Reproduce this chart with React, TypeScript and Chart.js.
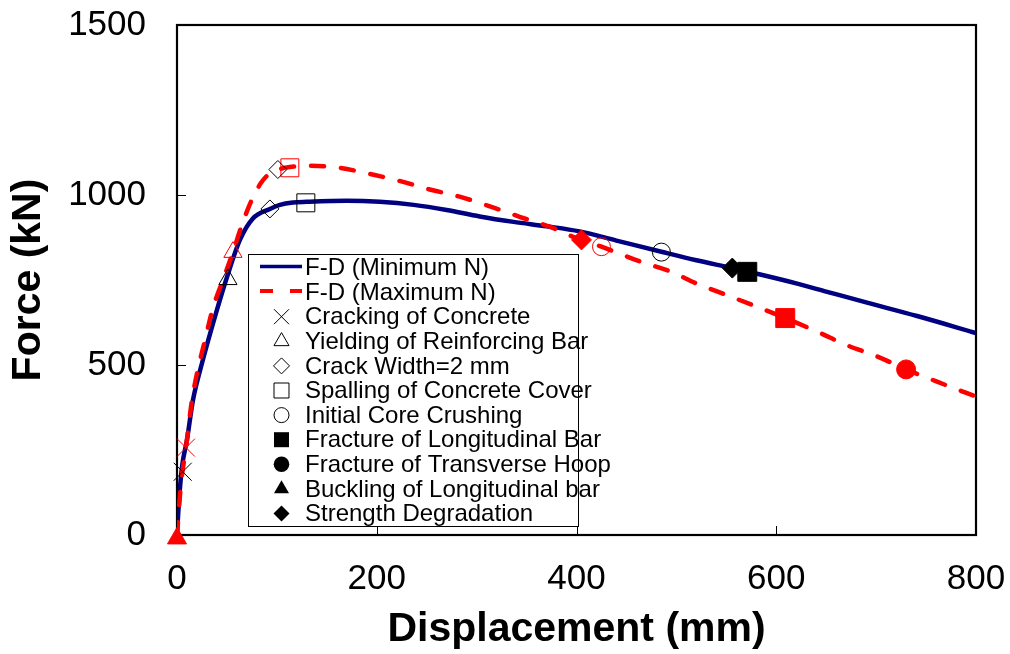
import React, { useEffect, useRef } from 'react';
import { Chart, registerables } from 'chart.js';

Chart.register(...registerables);

const FONT = '"Liberation Sans", Arial, Helvetica, sans-serif';

// ---------- data ----------
const seriesLabels = ['F-D (Minimum N)', 'F-D (Maximum N)'];

const minDisp = [0, 2, 5, 10, 16, 25, 40, 50, 63, 76, 93, 103, 116, 130, 170, 203, 237, 270, 303, 337, 370, 403, 440, 485, 520, 556, 584, 620, 650, 690, 741, 800];
const minForce = [0, 100, 200, 280, 397, 505, 662, 758, 868, 931, 959, 971, 978, 980, 983, 980, 971, 956, 937, 921, 908, 893, 866, 833, 808, 785, 766, 740, 716, 684, 644, 594];

const maxDisp = [0, 4, 9, 15, 20, 28, 36, 46, 56, 65, 74, 84, 93, 105, 118, 130, 160, 190, 222, 252, 283, 314, 343, 373, 400, 425, 464, 494, 520, 550, 580, 610, 644, 670, 701, 730, 761, 791, 800];
const maxForce = [0, 150, 257, 397, 475, 573, 668, 750, 832, 912, 980, 1035, 1064, 1078, 1084, 1086, 1081, 1064, 1042, 1017, 995, 966, 936, 907, 873, 848, 804, 775, 740, 706, 672, 637, 594, 559, 525, 487, 451, 417, 407];

const eventLabels = [
  'Cracking of Concrete',
  'Yielding of Reinforcing Bar',
  'Crack Width=2 mm',
  'Spalling of Concrete Cover',
  'Initial Core Crushing',
  'Fracture of Longitudinal Bar',
  'Fracture of Transverse Hoop',
  'Buckling of Longitudinal bar',
  'Strength Degradation',
];
const minEventDisp = [5.7, 51, 93, 129, 485, 571, null, null, 556];
const minEventForce = [186, 752, 959, 977, 832, 774, null, null, 785];
const maxEventDisp = [9, 56, 101, 113, 425, 609, 730, 0, 405];
const maxEventForce = [257, 832, 1075, 1080, 848, 638, 487, -10, 868];

const xMin = 0, xMax = 800, xStep = 200;
const yMin = 0, yMax = 1500, yStep = 500;

// ---------- styles ----------
const eventShape = ['crossRot', 'triangle', 'rectRot', 'rect', 'circle', 'rect', 'circle', 'triangle', 'rectRot'];
const eventFilled = [false, false, false, false, false, true, true, true, true];
const eventRadius = [12.7, 10.5, 9, 12.7, 9, 13.4, 9.5, 11, 10];
const legendRadius = [10.6, 8.7, 8, 10.6, 7.5, 10.6, 7.8, 8.7, 8];
const minEventColor = ['#000', '#000', '#000', '#000', '#000', '#000', '#000', '#000', '#000'];
const maxEventColor = ['#FF0000', '#FF0000', '#000', '#FF0000', '#FF0000', '#FF0000', '#FF0000', '#FF0000', '#FF0000'];
const BLUE = '#000080';
const RED = '#FF0000';

function drawShape(ctx: CanvasRenderingContext2D, shape: string, x: number, y: number, r: number, filled: boolean, color: string) {
  ctx.save();
  ctx.strokeStyle = color;
  ctx.fillStyle = color;
  ctx.lineWidth = 1;
  ctx.beginPath();
  const s = Math.SQRT1_2 * r;
  if (shape === 'crossRot') {
    ctx.moveTo(x - s, y - s); ctx.lineTo(x + s, y + s);
    ctx.moveTo(x - s, y + s); ctx.lineTo(x + s, y - s);
    ctx.stroke();
  } else {
    if (shape === 'triangle') {
      ctx.moveTo(x, y - r);
      ctx.lineTo(x + r * Math.sin((2 * Math.PI) / 3), y - r * Math.cos((2 * Math.PI) / 3));
      ctx.lineTo(x + r * Math.sin((4 * Math.PI) / 3), y - r * Math.cos((4 * Math.PI) / 3));
      ctx.closePath();
    } else if (shape === 'rectRot') {
      ctx.moveTo(x, y - r); ctx.lineTo(x + r, y); ctx.lineTo(x, y + r); ctx.lineTo(x - r, y); ctx.closePath();
    } else if (shape === 'rect') {
      ctx.rect(x - s, y - s, 2 * s, 2 * s);
    } else {
      ctx.arc(x, y, r, 0, Math.PI * 2);
    }
    if (filled) ctx.fill(); else ctx.stroke();
  }
  ctx.restore();
}

const framePlugin = {
  id: 'frameTicks',
  beforeDatasetsDraw(chart: any) {
    const { ctx, chartArea: a, scales } = chart;
    ctx.save();
    ctx.strokeStyle = '#000';
    ctx.lineWidth = 1;
    ctx.beginPath();
    for (const t of scales.x.ticks) {
      const px = Math.round(scales.x.getPixelForValue(t.value)) + 0.5;
      ctx.moveTo(px, a.bottom); ctx.lineTo(px, a.bottom - 9);
    }
    for (const t of scales.y.ticks) {
      const py = Math.round(scales.y.getPixelForValue(t.value)) + 0.5;
      ctx.moveTo(a.left, py); ctx.lineTo(a.left + 9, py);
    }
    ctx.stroke();
    ctx.lineWidth = 2.2;
    ctx.strokeRect(a.left, a.top, a.right - a.left, a.bottom - a.top);
    ctx.restore();
  },
};

const legendPlugin = {
  id: 'insideLegend',
  afterDraw(chart: any) {
    const { ctx, chartArea: a } = chart;
    const bx = a.left + 71, by = a.top + 229, bw = 330, bh = 272;
    ctx.save();
    ctx.fillStyle = '#fff';
    ctx.fillRect(bx, by, bw, bh);
    ctx.strokeStyle = '#000';
    ctx.lineWidth = 1;
    ctx.strokeRect(bx + 0.5, by + 0.5, bw, bh);
    const rowY0 = by + 13.5;
    const step = 24.6;
    const symX = bx + 33.5;
    const textX = bx + 57;
    ctx.font = `24px ${FONT}`;
    ctx.textBaseline = 'middle';
    ctx.textAlign = 'left';
    ctx.fillStyle = '#000';
    // series lines
    const lx0 = bx + 12, lx1 = bx + 54;
    ctx.lineCap = 'butt';
    ctx.strokeStyle = BLUE;
    ctx.lineWidth = 3.5;
    ctx.beginPath(); ctx.moveTo(lx0, rowY0 - 1); ctx.lineTo(lx1, rowY0 - 1); ctx.stroke();
    ctx.strokeStyle = RED;
    ctx.lineWidth = 4;
    ctx.setLineDash([13, 17]);
    ctx.beginPath(); ctx.moveTo(lx0, rowY0 + step - 1); ctx.lineTo(lx1, rowY0 + step - 1); ctx.stroke();
    ctx.setLineDash([]);
    ctx.fillText(seriesLabels[0], textX, rowY0 + 1);
    ctx.fillText(seriesLabels[1], textX, rowY0 + step + 1);
    eventLabels.forEach((lab, i) => {
      const y = rowY0 + (i + 2) * step;
      drawShape(ctx, eventShape[i], symX, y, legendRadius[i], eventFilled[i], '#000');
      ctx.fillStyle = '#000';
      ctx.fillText(lab, textX, y + 1);
    });
    ctx.restore();
  },
};

export default function App() {
  const ref = useRef<HTMLCanvasElement | null>(null);

  useEffect(() => {
    if (!ref.current) return;
    const markerSets: any[] = [];
    eventLabels.forEach((lab, i) => {
      const common = {
        showLine: false,
        pointStyle: eventShape[i],
        pointRadius: eventRadius[i],
        pointHoverRadius: eventRadius[i],
        pointBorderWidth: 1,
        clip: false,
        order: 0,
      };
      if (minEventDisp[i] !== null) {
        markerSets.push({
          ...common,
          label: lab + ' (Min N)',
          data: [{ x: minEventDisp[i], y: minEventForce[i] }],
          pointBorderColor: minEventColor[i],
          pointBackgroundColor: eventFilled[i] ? minEventColor[i] : 'rgba(0,0,0,0)',
        });
      }
      if (maxEventDisp[i] !== null) {
        markerSets.push({
          ...common,
          label: lab + ' (Max N)',
          data: [{ x: maxEventDisp[i], y: maxEventForce[i] }],
          pointBorderColor: maxEventColor[i],
          pointBackgroundColor: eventFilled[i] ? maxEventColor[i] : 'rgba(0,0,0,0)',
        });
      }
    });

    const chart = new Chart(ref.current, {
      type: 'scatter',
      data: {
        datasets: [
          ...markerSets,
          {
            label: seriesLabels[1],
            data: maxDisp.map((x, i) => ({ x, y: maxForce[i] })),
            showLine: true,
            borderColor: RED,
            borderWidth: 4.5,
            borderDash: [13, 17],
            borderCapStyle: 'round',
            pointRadius: 0,
            cubicInterpolationMode: 'monotone',
            order: 1,
          },
          {
            label: seriesLabels[0],
            data: minDisp.map((x, i) => ({ x, y: minForce[i] })),
            showLine: true,
            borderColor: BLUE,
            borderWidth: 4.5,
            pointRadius: 0,
            cubicInterpolationMode: 'monotone',
            order: 2,
          },
        ],
      },
      options: {
        responsive: false,
        animation: false,
        devicePixelRatio: 1,
        layout: { padding: { left: 0, top: 25, right: 34, bottom: 0 } },
        plugins: {
          legend: { display: false },
          tooltip: { enabled: false },
        },
        scales: {
          x: {
            type: 'linear',
            min: xMin,
            max: xMax,
            grid: { display: false, drawTicks: false, tickLength: 0 },
            border: { display: false },
            ticks: {
              stepSize: xStep,
              color: '#000',
              padding: 23,
              font: { family: FONT, size: 35 },
              maxRotation: 0,
              callback: (v: any) => String(v),
            },
            title: {
              display: true,
              text: 'Displacement (mm)',
              color: '#000',
              font: { family: FONT, size: 41, weight: 'bold' },
              padding: { top: 0, bottom: 0 },
            },
            afterFit: (s: any) => {
              s.height = 119;
              s.paddingLeft = 0; s.paddingRight = 0; s.paddingTop = 0; s.paddingBottom = 0;
            },
          },
          y: {
            type: 'linear',
            min: yMin,
            max: yMax,
            grid: { display: false, drawTicks: false, tickLength: 0 },
            border: { display: false },
            ticks: {
              stepSize: yStep,
              color: '#000',
              padding: 31,
              font: { family: FONT, size: 35 },
              callback: (v: any) => String(v),
            },
            title: {
              display: true,
              text: 'Force (kN)',
              color: '#000',
              font: { family: FONT, size: 41, weight: 'bold' },
              padding: { top: 4, bottom: 4 },
            },
            afterFit: (s: any) => {
              s.width = 177;
              s.paddingLeft = 0; s.paddingRight = 0; s.paddingTop = 0; s.paddingBottom = 0;
            },
          },
        },
      } as any,
      plugins: [framePlugin, legendPlugin],
    });
    return () => chart.destroy();
  }, []);

  return (
    <div style={{ position: 'absolute', left: 0, top: 0, width: 1010, height: 654, background: '#fff' }}>
      <canvas ref={ref} width={1010} height={654} style={{ display: 'block', width: 1010, height: 654 }} />
    </div>
  );
}
